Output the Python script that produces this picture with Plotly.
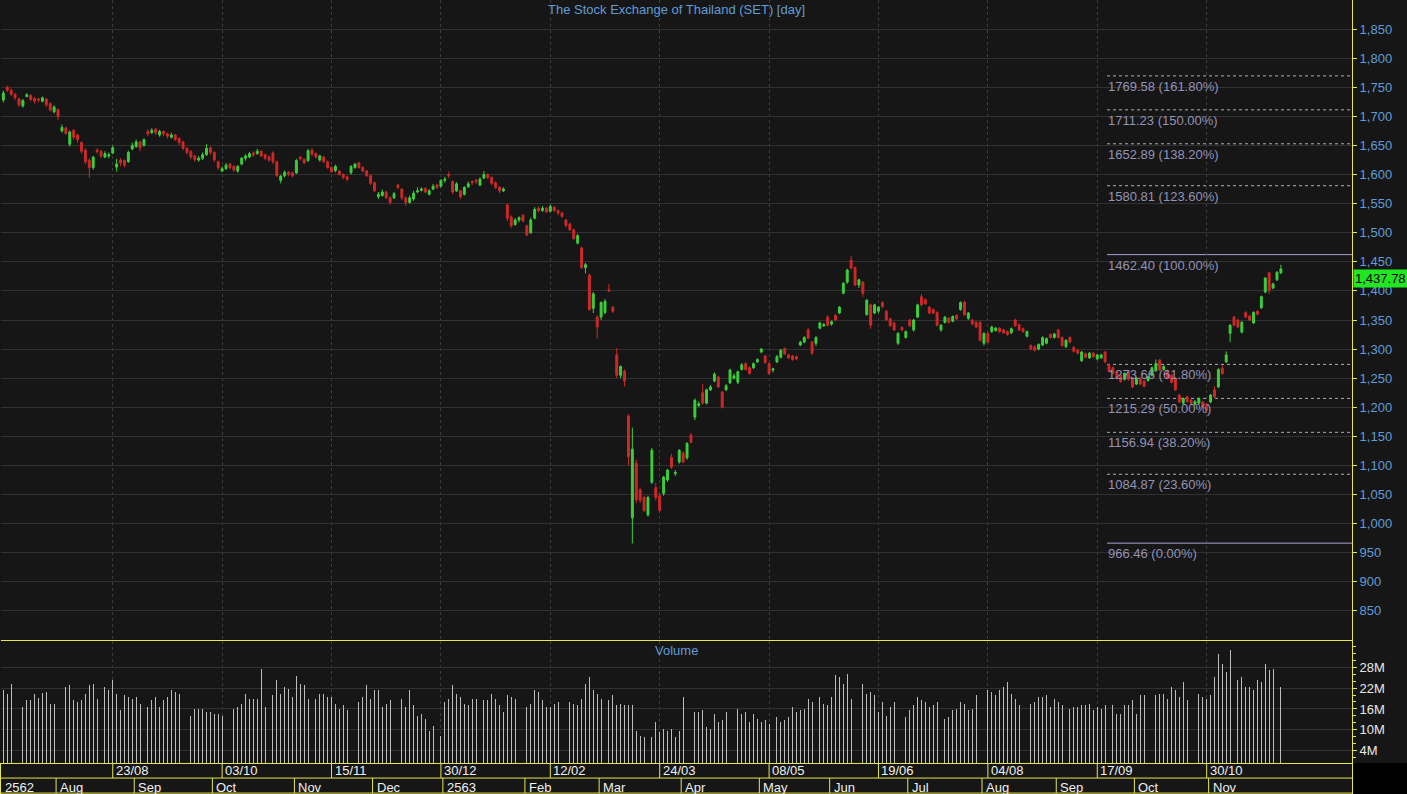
import plotly.graph_objects as go

# ---------------- data ----------------
opens = [
1728,1750,1745,1738,1730,1718,1734,1736,1731,1730,
1726,1730,1722,1708,1712,1675,1680,1652,1676,1668,
1655,1642,1624,1612,1642,1640,1630,1632,1637,1613,
1625,1624,1622,1644,1648,1656,1650,1674,1672,1678,
1668,1674,1670,1664,1668,1662,1656,1645,1640,1632,
1625,1628,1634,1646,1638,1622,1606,1610,1618,1614,
1606,1618,1628,1630,1637,1636,1640,1634,1630,1637,
1622,1590,1598,1604,1603,1603,1630,1626,1624,1642,
1636,1625,1630,1622,1612,1607,1606,1600,1596,1603,
1612,1620,1612,1606,1598,1586,1562,1564,1570,1560,
1560,1582,1575,1560,1552,1558,1570,1573,1576,1566,
1575,1582,1580,1590,1600,1588,1572,1572,1566,1579,
1588,1590,1582,1594,1600,1595,1586,1578,1572,1548,
1527,1514,1522,1530,1512,1500,1525,1542,1538,1542,
1537,1544,1538,1534,1522,1515,1505,1482,1474,1440,
1427,1370,1355,1355,1363,1402,1372,1290,1255,1262,
1185,1010,1104,1058,1045,1015,1071,1062,1048,1052,
1075,1114,1086,1106,1121,1113,1152,1183,1203,1225,
1207,1230,1245,1252,1226,1230,1242,1250,1243,1265,
1275,1268,1268,1278,1295,1288,1275,1264,1278,1286,
1301,1290,1288,1287,1307,1312,1333,1312,1310,1336,
1340,1355,1343,1358,1362,1396,1415,1453,1440,1410,
1415,1359,1376,1362,1365,1380,1365,1352,1345,1310,
1337,1320,1350,1333,1355,1390,1385,1372,1368,1363,
1333,1346,1353,1348,1358,1368,1381,1353,1350,1346,
1346,1310,1327,1330,1332,1336,1333,1330,1328,1350,
1342,1335,1322,1306,1304,1300,1307,1310,1325,1320,
1333,1320,1304,1320,1303,1298,1280,1292,1285,1293,
1283,1285,1295,1273,1268,1261,1255,1248,1261,1250,
1240,1250,1245,1246,1255,1263,1281,1265,1263,1255,
1250,1221,1207,1218,1212,1205,1207,1209,1205,1209,
1230,1235,1267,1278,1327,1355,1350,1329,1363,1357,
1345,1365,1371,1398,1431,1405,1419,1431]

highs = [
1744,1753,1748,1740,1732,1730,1740,1738,1733,1732,
1734,1731,1724,1719,1713,1686,1682,1676,1678,1670,
1657,1645,1628,1632,1645,1642,1640,1638,1650,1627,
1628,1626,1641,1655,1660,1658,1662,1678,1680,1680,
1677,1676,1672,1672,1670,1664,1658,1648,1642,1634,
1632,1638,1652,1648,1640,1624,1614,1620,1620,1616,
1616,1630,1635,1639,1640,1644,1642,1636,1633,1640,
1624,1600,1607,1606,1605,1627,1632,1628,1644,1645,
1638,1634,1632,1624,1614,1617,1608,1602,1598,1616,
1620,1622,1614,1608,1600,1588,1570,1574,1572,1562,
1570,1584,1577,1562,1564,1572,1578,1578,1578,1575,
1584,1584,1592,1596,1605,1590,1587,1574,1580,1588,
1590,1593,1595,1606,1602,1597,1588,1580,1578,1550,
1530,1525,1528,1532,1514,1526,1544,1545,1546,1544,
1548,1546,1540,1536,1524,1517,1507,1498,1476,1448,
1430,1398,1358,1382,1386,1412,1374,1302,1272,1265,
1188,1165,1110,1062,1048,1048,1130,1070,1052,1082,
1094,1120,1092,1128,1124,1140,1156,1215,1210,1240,
1232,1238,1260,1254,1228,1240,1266,1258,1263,1276,
1278,1270,1277,1284,1302,1290,1277,1268,1290,1300,
1303,1292,1290,1289,1314,1322,1336,1314,1322,1347,
1345,1358,1349,1360,1374,1415,1438,1460,1442,1421,
1417,1386,1378,1378,1374,1382,1367,1354,1347,1329,
1339,1332,1352,1352,1378,1395,1387,1374,1370,1365,
1343,1357,1355,1358,1360,1382,1383,1364,1352,1348,
1348,1329,1329,1340,1338,1338,1335,1332,1337,1352,
1344,1337,1332,1308,1306,1310,1322,1320,1327,1328,
1335,1322,1317,1322,1305,1300,1297,1294,1295,1295,
1292,1292,1297,1275,1270,1263,1257,1260,1263,1252,
1252,1252,1247,1254,1270,1282,1283,1272,1265,1257,
1252,1223,1217,1220,1214,1212,1217,1211,1207,1223,
1236,1267,1272,1296,1343,1357,1352,1348,1365,1359,
1365,1367,1392,1424,1433,1414,1434,1445]

lows = [
1724,1742,1735,1728,1716,1715,1733,1726,1722,1724,
1724,1716,1708,1705,1694,1672,1668,1648,1660,1655,
1636,1618,1594,1608,1636,1628,1628,1628,1635,1605,
1614,1612,1620,1642,1646,1640,1648,1666,1670,1668,
1665,1666,1662,1662,1658,1650,1642,1634,1626,1622,
1622,1625,1632,1634,1622,1608,1604,1608,1609,1604,
1603,1616,1624,1628,1630,1634,1630,1625,1622,1618,
1596,1585,1595,1597,1595,1601,1624,1618,1622,1632,
1628,1622,1620,1610,1603,1604,1598,1592,1588,1600,
1610,1610,1604,1596,1582,1570,1558,1562,1558,1548,
1558,1575,1556,1546,1550,1555,1568,1571,1568,1564,
1573,1575,1578,1586,1594,1566,1570,1558,1564,1577,
1582,1584,1580,1592,1592,1582,1575,1568,1570,1520,
1508,1512,1518,1518,1494,1498,1523,1535,1536,1534,
1535,1536,1530,1526,1510,1503,1488,1480,1438,1430,
1366,1362,1318,1350,1360,1398,1362,1250,1250,1236,
1100,966,1035,1036,1020,1012,1068,1040,1020,1048,
1072,1094,1082,1103,1104,1110,1138,1178,1200,1205,
1205,1228,1243,1233,1198,1228,1240,1248,1240,1263,
1263,1256,1266,1276,1293,1275,1256,1260,1276,1284,
1290,1283,1280,1281,1305,1310,1317,1290,1305,1334,
1338,1339,1340,1348,1360,1394,1412,1437,1408,1405,
1390,1358,1335,1360,1362,1371,1348,1338,1331,1307,
1331,1318,1338,1330,1353,1374,1376,1360,1360,1339,
1330,1344,1344,1346,1350,1366,1357,1350,1341,1336,
1313,1306,1310,1328,1330,1328,1326,1323,1326,1338,
1331,1328,1320,1298,1296,1298,1305,1308,1318,1318,
1318,1304,1302,1310,1294,1291,1278,1284,1283,1285,
1281,1283,1276,1260,1256,1248,1242,1246,1246,1233,
1238,1238,1234,1244,1253,1261,1262,1263,1248,1241,
1228,1207,1205,1208,1205,1203,1205,1198,1190,1207,
1216,1233,1256,1276,1312,1339,1336,1327,1353,1348,
1343,1358,1369,1396,1395,1403,1417,1429]

closes = [
1740,1745,1738,1732,1720,1727,1737,1729,1726,1728,
1732,1720,1711,1716,1700,1681,1671,1673,1664,1660,
1640,1622,1612,1630,1640,1632,1636,1634,1646,1618,
1620,1616,1638,1650,1656,1646,1660,1670,1676,1672,
1674,1670,1666,1668,1660,1655,1645,1638,1630,1626,
1628,1634,1645,1638,1625,1612,1610,1616,1612,1608,
1614,1628,1632,1636,1634,1640,1632,1628,1625,1622,
1598,1597,1604,1600,1598,1624,1627,1620,1641,1635,
1630,1632,1622,1612,1605,1614,1600,1595,1592,1614,
1618,1612,1606,1598,1585,1572,1566,1570,1560,1552,
1567,1578,1560,1552,1560,1568,1572,1575,1570,1572,
1580,1578,1590,1592,1598,1570,1584,1562,1578,1584,
1586,1588,1592,1600,1595,1585,1578,1572,1575,1525,
1512,1522,1526,1520,1496,1522,1540,1538,1542,1536,
1545,1538,1534,1528,1512,1505,1490,1495,1440,1445,
1368,1395,1338,1380,1382,1400,1365,1255,1270,1245,
1115,1128,1041,1040,1023,1045,1126,1045,1023,1080,
1092,1097,1088,1126,1106,1138,1140,1212,1206,1207,
1230,1235,1257,1235,1200,1237,1264,1254,1261,1273,
1265,1258,1275,1282,1300,1277,1258,1266,1287,1298,
1292,1285,1282,1283,1312,1320,1319,1293,1320,1345,
1342,1341,1347,1350,1372,1413,1436,1439,1410,1419,
1396,1384,1341,1376,1372,1373,1350,1340,1333,1327,
1333,1330,1340,1350,1376,1376,1378,1362,1362,1341,
1341,1355,1346,1356,1352,1380,1359,1362,1343,1338,
1315,1327,1312,1338,1336,1330,1328,1325,1335,1340,
1333,1330,1330,1300,1298,1308,1320,1318,1320,1326,
1320,1306,1315,1312,1296,1293,1295,1286,1293,1287,
1290,1290,1278,1262,1258,1250,1244,1258,1248,1235,
1250,1240,1236,1252,1268,1275,1264,1270,1250,1243,
1230,1209,1215,1210,1207,1210,1215,1200,1195,1221,
1218,1265,1258,1290,1341,1341,1338,1346,1355,1350,
1363,1360,1390,1422,1401,1412,1432,1437.78]

# volume in millions
volumes_m = [
21.3,20.4,23.3,22.3,20.4,16.5,18.7,18.7,20.4,19.2,
20.6,20.9,17.5,17.5,18.0,22.8,22.3,22.8,18.5,18.0,
18.5,20.4,22.8,23.3,18.9,20.4,22.3,21.3,24.2,20.4,
15.6,19.9,19.4,18.9,19.4,17.5,15.6,16.5,18.5,19.4,
16.5,18.5,19.4,21.3,20.9,20.4,17.5,19.9,
14.1,16.1,16.1,16.1,15.1,15.1,14.6,14.6,14.1,13.6,
15.6,16.1,16.5,17.5,20.4,18.9,18.9,18.9,
27.6,
16.5,13.6,19.9,24.2,20.4,22.3,21.8,19.4,25.6,23.3,
22.8,18.9,18.5,18.9,20.4,20.4,19.4,19.4,17.5,16.1,
17.0,15.6,16.5,20.4,18.0,19.4,22.8,18.9,21.3,21.3,
16.5,17.5,18.5,18.5,18.5,18.9,16.5,21.3,17.0,14.1,
14.6,13.1,9.8,11.2,12.7,8.3,
18.0,18.9,22.8,20.4,19.4,17.5,17.0,18.9,18.9,18.9,
18.5,18.5,20.4,18.9,17.0,
15.1,19.9,19.4,18.9,16.5,15.6,16.5,17.5,21.3,20.9,
18.5,16.5,16.5,17.5,18.0,17.0,15.1,18.0,17.5,17.0,
18.9,23.3,25.2,21.3,20.4,18.9,20.9,18.5,19.9,17.0,
17.5,17.0,17.0,17.0,
9.8,8.3,7.9,7.4,7.9,12.2,9.3,10.3,9.8,10.3,7.9,9.8,
19.4,
13.6,12.2,15.1,15.1,15.6,10.7,10.3,14.6,12.2,12.7,
15.1,12.2,15.6,16.1,14.6,15.1,12.2,14.6,13.1,12.2,
12.7,11.7,12.2,13.6,12.2,12.7,13.6,16.5,15.1,
15.6,16.1,18.9,18.0,19.4,19.4,17.5,17.0,19.4,
25.7,25.2,23.3,26.1,18.9,25.2,24.2,23.3,20.4,20.9,
19.9,15.1,18.0,14.1,16.5,18.0,12.7,15.1,13.6,15.6,
17.0,19.4,18.5,18.0,16.5,17.0,18.0,16.1,13.1,
13.6,15.6,16.1,18.0,17.5,15.6,16.1,19.9,20.9,19.9,
21.3,20.9,19.9,21.3,
22.3,23.7,20.4,18.9,17.0,21.3,20.9,17.5,18.0,19.4,
19.4,19.9,16.5,18.9,18.0,17.0,18.9,16.1,16.5,
16.5,17.0,17.0,17.5,15.6,16.5,16.1,17.0,18.0,17.0,
14.6,14.6,17.0,17.0,18.5,14.6,19.9,19.9,21.3,19.9,
19.9,20.4,20.4,18.9,22.3,21.3,19.4,23.7,18.5,18.0,
23.3,20.4,19.4,18.9,19.9,25.2,31.9,29.0,26.6,32.9,
24.7,24.2,25.2,22.3,22.3,21.3,24.2,23.7,29.0,27.1,
27.6,22.8,22.3]

tick_idx = [28, 56, 84, 112, 140, 168, 196, 224, 252, 280, 308]
tick_labels = ["23/08", "03/10", "15/11", "30/12", "12/02", "24/03",
               "08/05", "19/06", "04/08", "17/09", "30/10"]
month_idx = [0, 14, 34, 54, 75, 95, 113, 134, 153, 174, 194, 212, 232, 251, 270, 290, 309]
month_labels = ["2562", "Aug", "Sep", "Oct", "Nov", "Dec", "2563", "Feb", "Mar",
                "Apr", "May", "Jun", "Jul", "Aug", "Sep", "Oct", "Nov"]

fib_levels = [1769.58, 1711.23, 1652.89, 1580.81, 1462.40,
              1273.66, 1215.29, 1156.94, 1084.87, 966.46]
fib_pcts = [161.80, 150.00, 138.20, 123.60, 100.00,
            61.80, 50.00, 38.20, 23.60, 0.00]
fib_start = 282.5
last_price = 1437.78

price_ticks = list(range(850, 1851, 50))
vol_ticks = [4, 10, 16, 22, 28]
vol_tick_text = ["4M", "10M", "16M", "22M", "28M"]

# ---------------- style ----------------
FONT = "Liberation Sans, Arial, sans-serif"
FS = 13
BG = "#161616"
YELLOW = "#e6e64e"
HGRID = "#313131"
VGRID = "#3d3d3d"
BLUE = "#5f9dd8"
UP = "#3ccf3c"
DOWN = "#d02828"
FIB_LINE = "#ababc9"
FIB_SOLID = "#a3a3d6"
FIB_TEXT = "#9393b6"

x_range = [-0.6, 345.2]
price_dom = [0.19395, 1.0]
vol_dom = [0.03904, 0.19270]
strip_dom = [0.0, 0.03904]

fig = go.Figure()

fig.add_trace(go.Candlestick(
    x=list(range(len(closes))), open=opens, high=highs, low=lows, close=closes,
    increasing=dict(line=dict(color=UP, width=1), fillcolor=UP),
    decreasing=dict(line=dict(color=DOWN, width=1), fillcolor=DOWN),
    whiskerwidth=0, xaxis="x", yaxis="y", showlegend=False, hoverinfo="skip"))

fig.add_trace(go.Bar(
    x=list(range(len(volumes_m))), y=volumes_m, width=0.22,
    marker=dict(color="#bcbcbc", line=dict(width=0)),
    xaxis="x2", yaxis="y2", showlegend=False, hoverinfo="skip"))

shapes = []
annotations = []

# fibonacci levels
for lvl, pct in zip(fib_levels, fib_pcts):
    solid = pct in (0.0, 100.0)
    shapes.append(dict(type="line", xref="x", yref="y", x0=fib_start, x1=x_range[1],
                       y0=lvl, y1=lvl, layer="below",
                       line=dict(color=FIB_SOLID if solid else FIB_LINE, width=1,
                                 dash="solid" if solid else "3px,3px")))
    annotations.append(dict(xref="x", yref="y", x=fib_start, y=lvl, xanchor="left",
                            yanchor="top", yshift=-1, xshift=-1, showarrow=False,
                            text=f"{lvl:.2f} ({pct:.2f}%)",
                            font=dict(family=FONT, size=FS, color=FIB_TEXT)))

# date strip
shapes.append(dict(type="line", xref="x3", yref="y3", x0=x_range[0], x1=x_range[1],
                   y0=1, y1=1, line=dict(color=YELLOW, width=1)))
shapes.append(dict(type="line", xref="x3", yref="y3", x0=x_range[0], x1=x_range[1],
                   y0=0, y1=0, line=dict(color=YELLOW, width=1)))
for t, lab in zip(tick_idx, tick_labels):
    shapes.append(dict(type="line", xref="x3", yref="y3", x0=t, x1=t, y0=1, y1=2,
                       line=dict(color=YELLOW, width=1)))
    annotations.append(dict(xref="x3", yref="y3", x=t, y=1.5, xanchor="left",
                            yanchor="middle", xshift=1, showarrow=False, text=lab,
                            font=dict(family=FONT, size=FS, color="#f0f0f0")))
for m, lab in zip(month_idx, month_labels):
    if m > 0:
        shapes.append(dict(type="line", xref="x3", yref="y3", x0=m - 0.5, x1=m - 0.5,
                           y0=0, y1=1, line=dict(color=YELLOW, width=1)))
    annotations.append(dict(xref="x3", yref="y3", x=m - 0.5, y=0.4, xanchor="left",
                            yanchor="middle", xshift=2, showarrow=False, text=lab,
                            font=dict(family=FONT, size=FS, color="#f0f0f0")))

# black corner right of the date strip
shapes.append(dict(type="rect", xref="paper", yref="paper", x0=1.0008, x1=1.06,
                   y0=-0.01, y1=vol_dom[0], fillcolor="#000000", line=dict(width=0),
                   layer="below"))

# titles
annotations.append(dict(xref="paper", yref="paper", x=0.5, y=1.0, yshift=0,
                        xanchor="center", yanchor="top", showarrow=False,
                        text="The Stock Exchange of Thailand (SET) [day]",
                        font=dict(family=FONT, size=FS, color=BLUE)))
annotations.append(dict(xref="paper", yref="paper", x=0.5, y=vol_dom[1], yshift=0,
                        xanchor="center", yanchor="top", showarrow=False,
                        text="Volume", font=dict(family=FONT, size=FS, color=BLUE)))

# last price tag
annotations.append(dict(xref="paper", yref="y", x=1.0, y=last_price, xanchor="left",
                        yanchor="top", xshift=1, showarrow=False,
                        text=f"{last_price:,.2f}", bgcolor="#22e622", borderpad=1,
                        width=52, align="left",
                        font=dict(family=FONT, size=FS, color="#000000")))

fig.update_layout(
    width=1407, height=794,
    margin=dict(l=1, r=55, t=0, b=0, pad=0),
    paper_bgcolor=BG, plot_bgcolor=BG,
    font=dict(family=FONT, size=FS, color="#dddddd"),
    showlegend=False, bargap=0, hovermode=False,
    xaxis=dict(domain=[0, 1], range=x_range, anchor="y", tickmode="array",
               tickvals=tick_idx, showticklabels=False, ticks="",
               showgrid=True, gridcolor=VGRID, griddash="dot", gridwidth=1,
               zeroline=False, showline=False, rangeslider=dict(visible=False)),
    yaxis=dict(domain=price_dom, range=[800, 1900], side="right", anchor="x",
               tickmode="array", tickvals=price_ticks, tickformat=",d",
               ticks="outside", ticklen=4, tickcolor=YELLOW,
               showline=True, linecolor=YELLOW, linewidth=1,
               showgrid=True, gridcolor=HGRID, zeroline=False,
               tickfont=dict(family=FONT, size=FS, color=BLUE)),
    xaxis2=dict(domain=[0, 1], range=x_range, anchor="y2", tickmode="array",
                tickvals=tick_idx, showticklabels=False, ticks="",
                showgrid=True, gridcolor=VGRID, griddash="dot",
                zeroline=False, showline=True, linecolor=YELLOW, linewidth=1,
                mirror=True),
    yaxis2=dict(domain=vol_dom, range=[0.5, 35.5], side="right", anchor="x2",
                tickmode="array", tickvals=vol_ticks, ticktext=vol_tick_text,
                ticks="outside", ticklen=4, tickcolor=YELLOW,
                showline=True, linecolor=YELLOW, linewidth=1,
                showgrid=True, gridcolor=HGRID, zeroline=False,
                tickfont=dict(family=FONT, size=FS, color="#e8e8e8"),
                minor=dict(tick0=0, dtick=2, ticks="outside", ticklen=3,
                           tickcolor=YELLOW, showgrid=False)),
    xaxis3=dict(domain=[0, 1], range=x_range, anchor="y3", showticklabels=False,
                ticks="", showgrid=False, zeroline=False, showline=False),
    yaxis3=dict(domain=strip_dom, range=[-0.06, 2], side="right", anchor="x3",
                showticklabels=False, ticks="", showgrid=False, zeroline=False,
                showline=True, linecolor=YELLOW, linewidth=1, mirror=True),
    shapes=shapes,
    annotations=annotations,
)

fig.write_html("out.html",
               config={"displayModeBar": False, "staticPlot": True},
               post_script="document.body.style.margin='0px';"
                           "document.body.style.padding='0px';"
                           "document.body.style.background='#161616';")
